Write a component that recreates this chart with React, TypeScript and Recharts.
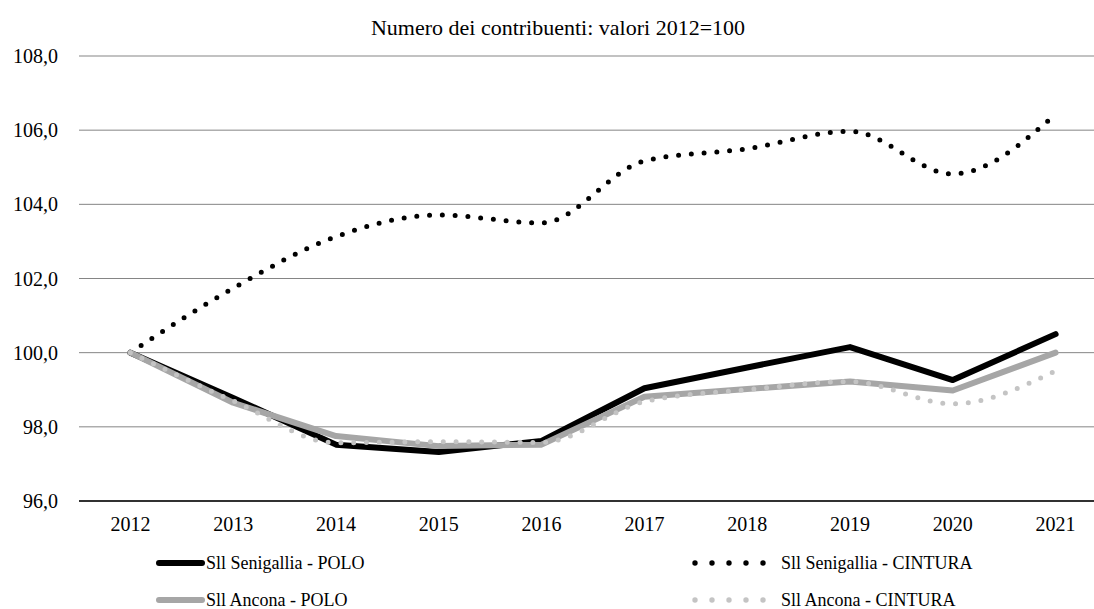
import React from 'react';
import { LineChart, Line, XAxis, YAxis, CartesianGrid, Legend } from 'recharts';

// Index numbers, 2012 = 100
const years = ['2012', '2013', '2014', '2015', '2016', '2017', '2018', '2019', '2020', '2021'];
const senigalliaPolo = [100, 98.78, 97.52, 97.32, 97.62, 99.04, 99.6, 100.15, 99.26, 100.5];
const senigalliaCintura = [100, 101.74, 103.13, 103.71, 103.5, 105.17, 105.5, 105.97, 104.82, 106.43];
const anconaPolo = [100, 98.65, 97.75, 97.48, 97.52, 98.81, 99.02, 99.22, 98.98, 100.0];
const anconaCintura = [100, 98.7, 97.57, 97.6, 97.58, 98.68, 99.0, 99.22, 98.62, 99.51];
const yTicks = [96, 98, 100, 102, 104, 106, 108];

const TITLE = 'Numero dei contribuenti: valori 2012=100';
const FONT = '"Liberation Serif", "Times New Roman", serif';

type SeriesDef = {
  key: string;
  name: string;
  values: number[];
  color: string;
  dotted: boolean;
  smooth: boolean;
  legendX: number;
  legendRow: number;
};

const series: SeriesDef[] = [
  { key: 'senPolo', name: 'Sll Senigallia - POLO', values: senigalliaPolo, color: '#000000', dotted: false, smooth: false, legendX: 155, legendRow: 0 },
  { key: 'senCintura', name: 'Sll Senigallia - CINTURA', values: senigalliaCintura, color: '#000000', dotted: true, smooth: true, legendX: 689, legendRow: 0 },
  { key: 'ancPolo', name: 'Sll Ancona - POLO', values: anconaPolo, color: '#a6a6a6', dotted: false, smooth: false, legendX: 155, legendRow: 1 },
  { key: 'ancCintura', name: 'Sll Ancona - CINTURA', values: anconaCintura, color: '#c4c4c4', dotted: true, smooth: true, legendX: 689, legendRow: 1 },
];

const data = years.map((year, i) => {
  const row: Record<string, string | number> = { year };
  series.forEach((s) => {
    row[s.key] = s.values[i];
  });
  return row;
});

const fmt = (v: number) => v.toFixed(1).replace('.', ',');

const LegendSample = ({ s }: { s: SeriesDef }) => {
  if (s.dotted) {
    return (
      <svg width={86} height={12} style={{ display: 'block' }}>
        {[0, 1, 2, 3, 4].map((i) => (
          <circle key={i} cx={6 + i * 17} cy={6} r={2.7} fill={s.color} />
        ))}
      </svg>
    );
  }
  return (
    <svg width={50} height={12} style={{ display: 'block' }}>
      <line x1={4} x2={47} y1={6} y2={6} stroke={s.color} strokeWidth={6} strokeLinecap="round" />
    </svg>
  );
};

const renderLegend = () => (
  <div style={{ position: 'relative', width: 1094, height: 70, fontFamily: FONT, fontSize: 18, color: '#000' }}>
    {series.map((s) => (
      <div
        key={s.key}
        style={{
          position: 'absolute',
          left: s.legendX,
          top: 12 + s.legendRow * 37,
          height: 24,
          display: 'flex',
          alignItems: 'center',
          whiteSpace: 'nowrap',
        }}
      >
        <LegendSample s={s} />
        <span style={{ marginLeft: s.dotted ? 6 : 1, lineHeight: '24px' }}>{s.name}</span>
      </div>
    ))}
  </div>
);

export default function App() {
  return (
    <div
      style={{
        position: 'fixed',
        left: 0,
        top: 0,
        width: 1094,
        height: 609,
        overflow: 'hidden',
        background: '#ffffff',
        fontFamily: FONT,
      }}
    >
      <div
        style={{
          position: 'absolute',
          left: 558,
          top: 15,
          transform: 'translateX(-50%)',
          whiteSpace: 'nowrap',
          fontSize: 22,
          lineHeight: '26px',
          color: '#000',
          zIndex: 2,
        }}
      >
        {TITLE}
      </div>
      <LineChart width={1107} height={609} data={data} margin={{ top: 56, right: 0, bottom: 0, left: 0 }}>
        <CartesianGrid vertical={false} stroke="#858585" strokeWidth={1} />
        <XAxis
          dataKey="year"
          height={38}
          padding={{ left: 51.4, right: 51.4 }}
          tickLine={false}
          tickSize={0}
          tickMargin={16}
          axisLine={{ stroke: '#000000', strokeWidth: 1.6 }}
          tick={{ fill: '#000', fontSize: 20, fontFamily: FONT }}
          interval={0}
        />
        <YAxis
          domain={[96, 108]}
          ticks={yTicks}
          width={79}
          axisLine={false}
          tickLine={false}
          tickSize={0}
          tickMargin={21}
          tickFormatter={fmt}
          tick={{ fill: '#000', fontSize: 20, fontFamily: FONT }}
          allowDataOverflow
        />
        {series.map((s) => (
          <Line
            key={s.key}
            dataKey={s.key}
            name={s.name}
            type={s.smooth ? 'monotone' : 'linear'}
            stroke={s.color}
            strokeWidth={s.dotted ? 5 : 6}
            strokeDasharray={s.dotted ? '0 12.8' : undefined}
            strokeLinecap="round"
            strokeLinejoin="round"
            dot={false}
            activeDot={false}
            isAnimationActive={false}
          />
        ))}
        <Legend
          verticalAlign="bottom"
          content={renderLegend}
          wrapperStyle={{ left: 0, width: 1094, height: 70, bottom: 0 }}
        />
      </LineChart>
    </div>
  );
}
